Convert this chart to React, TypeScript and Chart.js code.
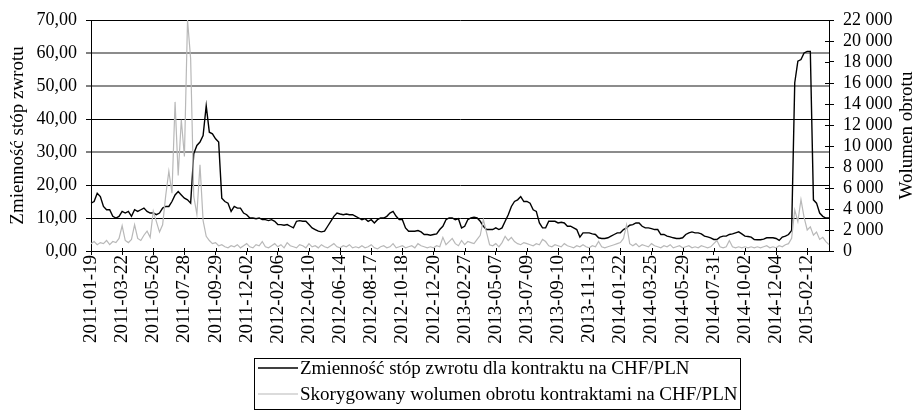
import React, { useEffect, useRef } from 'react';
import { Chart, registerables } from 'chart.js';

Chart.register(...registerables);

// Dates printed under the x axis (one every 10 plotted points)
const DATE_LABELS = [
  '2011-01-19', '2011-03-22', '2011-05-26', '2011-07-28', '2011-09-29', '2011-12-02',
  '2012-02-06', '2012-04-10', '2012-06-14', '2012-08-17', '2012-10-18', '2012-12-20',
  '2013-02-27', '2013-05-07', '2013-07-09', '2013-09-10', '2013-11-13', '2014-01-22',
  '2014-03-25', '2014-05-29', '2014-07-31', '2014-10-02', '2014-12-04', '2015-02-12',
];
const POINTS_PER_LABEL = 10;

// Volatility of returns (left axis)
const VOLATILITY = [
  // 2011
  14.5, 15, 17.5, 16.5, 13.5, 12.5, 12.5, 10.5, 10, 10.5, 12, 11.5, 12, 10.5, 12.5, 12, 12.5, 13, 12, 11.5,
  11.5, 11, 11.5, 13, 13.5, 13.5, 15, 17, 18, 17, 16, 15.5, 14.5, 29.5, 32, 33, 35, 44, 36, 35.5, 34, 33,
  // late 2011 - 2012
  16, 15, 14.5, 12, 13.5, 13, 13, 11.5, 11, 10, 10, 9.8, 10, 9.5, 9.5, 9.2, 9.5, 9, 8, 8,
  7.8, 8, 7.5, 7, 9, 9.2, 9, 9, 8, 7, 6.5, 6, 5.8, 6, 7.5, 9, 10.5, 11.5, 11.2, 11, 11.2, 11, 11,
  // 2012 - 2013
  10.5, 10, 9.5, 9.8, 9, 9.5, 8.5, 9.5, 10, 10, 10.5, 11.5, 12, 10.5, 9.5, 9.5, 7, 6, 6, 6,
  6.2, 5.8, 5, 5, 4.8, 5, 5.2, 6.5, 7.5, 9.5, 10, 10, 9.5, 9.8, 7, 7.5, 9.5, 10, 10.2, 10, 9, 7.5,
  // 2013
  6.5, 6.5, 6.5, 7, 6.5, 7, 9, 11, 13.5, 15, 15.5, 16.5, 15, 15, 14.5, 12.5, 12, 8.5, 7, 7,
  9, 9, 9, 8.5, 8.7, 8.5, 7.5, 7.5, 7, 6.5, 4.2, 5.5, 5.5, 5.5, 5.2, 5, 4, 3.8, 3.8, 4, 4.5, 5,
  // 2014
  5.5, 5.5, 6.5, 7, 7.8, 8, 8.5, 8.5, 7.5, 7, 7, 6.8, 6.5, 6.5, 5, 5, 4.5, 4.3, 4, 3.8,
  3.8, 4, 5, 5.5, 5.8, 5.5, 5.5, 5.2, 4.5, 4.3, 4, 3.5, 3.5, 4.2, 4.5, 4.5,
  // late 2014 - 2015
  5, 5.2, 5.5, 5.8, 5.2, 4.5, 4.4, 4.2, 3.5, 3.4, 3.4, 3.6, 4, 4, 4, 3.8, 3.2, 4.2, 4.5, 5,
  6.2, 51, 57.5, 58, 60, 60.5, 60.5, 15.5, 14.5, 11.5, 10.5, 10, 10,
];

// Adjusted turnover volume (right axis)
const VOLUME = [
  // 2011
  700, 900, 600, 800, 700, 1000, 600, 900, 800, 1200, 2400, 1000, 800, 1100, 2500, 1200, 1000, 1500, 1900, 1300,
  3800, 2800, 1800, 2500, 5300, 7600, 5500, 14200, 7200, 12500, 9000, 22000, 18300, 5200, 3500, 8200, 2900, 1400, 1000, 700,
  800, 500, 600, 400,
  // late 2011 - 2012
  300, 500, 400, 600, 300, 500, 700, 400, 300, 600, 500, 900, 400, 300, 500, 700, 400, 600, 300, 800,
  500, 400, 300, 600, 500, 300, 700, 400, 500, 300, 600, 400, 300, 500, 700, 400, 300, 500, 400, 600, 300,
  // 2012 - 2013
  400, 300, 500, 300, 400, 600, 300, 200, 400, 500, 300, 400, 700, 300, 400, 500, 300, 400, 500, 300,
  700, 500, 400, 300, 400, 300, 500, 400, 1300, 600, 900, 1200, 700, 500, 1000, 600, 900, 800, 700, 1100, 1500,
  // 2013
  3000, 1800, 600, 500, 700, 400, 800, 1400, 1000, 1300, 900, 700, 600, 800, 700, 600, 500, 700, 600, 1100,
  900, 500, 400, 600, 500, 400, 700, 500, 400, 300, 500, 400, 600, 400, 300, 500, 400, 900, 400, 300, 400, 500, 600,
  // 2014
  700, 800, 1200, 2500, 700, 500, 700, 400, 600, 500, 400, 700, 500, 400, 300, 500, 400, 600, 300, 400,
  500, 300, 400, 500, 300, 400, 300, 500, 400, 300, 400, 700, 1000, 400, 300, 400,
  // late 2014 - 2015
  1000, 400, 300, 400, 300, 400, 300, 400, 300, 400, 300, 400, 500, 300, 400, 300, 500, 400, 600, 700,
  1200, 3900, 2800, 4900, 3200, 2000, 2300, 1500, 1800, 1100, 1300, 900, 600,
];

const SERIES_NAMES = [
  'Zmienność stóp zwrotu dla kontraktu na CHF/PLN',
  'Skorygowany wolumen obrotu kontraktami na CHF/PLN',
];
const LEFT_TITLE = 'Zmienność stóp zwrotu';
const RIGHT_TITLE = 'Wolumen obrotu';

const FONT = '"Liberation Serif", "Times New Roman", serif';
const BLACK = '#000000';
const GREY = '#b8b8b8';

const fmtLeft = (v: number) => Number(v).toFixed(2).replace('.', ',');
const fmtRight = (v: number) => String(Math.round(Number(v))).replace(/\B(?=(\d{3})+(?!\d))/g, ' ');

const overlay = {
  id: 'overlay',
  afterDraw(chart: any) {
    const { ctx, chartArea } = chart;
    ctx.save();

    // inward half of the crossing tick marks on the right and bottom axes
    ctx.strokeStyle = BLACK;
    ctx.lineWidth = 1;
    const y1 = chart.scales.y1;
    y1.ticks.forEach((t: any) => {
      const py = Math.round(y1.getPixelForValue(t.value)) + 0.5;
      ctx.beginPath();
      ctx.moveTo(chartArea.right - 4, py);
      ctx.lineTo(chartArea.right, py);
      ctx.stroke();
    });
    const xs = chart.scales.x;
    xs.ticks.forEach((_t: any, i: number) => {
      if (i % POINTS_PER_LABEL !== 0) return;
      const px = Math.round(xs.getPixelForTick(i)) + 0.5;
      ctx.beginPath();
      ctx.moveTo(px, chartArea.bottom - 3);
      ctx.lineTo(px, chartArea.bottom);
      ctx.stroke();
    });

    ctx.fillStyle = BLACK;
    ctx.font = `19px ${FONT}`;
    ctx.textAlign = 'center';
    ctx.textBaseline = 'middle';
    const midY = (chartArea.top + chartArea.bottom) / 2;
    // left axis title
    ctx.save();
    ctx.translate(18, midY);
    ctx.rotate(-Math.PI / 2);
    ctx.fillText(LEFT_TITLE, 0, 0);
    ctx.restore();
    // right axis title (reads bottom to top)
    ctx.save();
    ctx.translate(907, midY);
    ctx.rotate(-Math.PI / 2);
    ctx.fillText(RIGHT_TITLE, 0, 0);
    ctx.restore();

    // legend box
    const bx = 254.5, by = 358.5, bw = 486, bh = 51;
    ctx.strokeStyle = '#000';
    ctx.lineWidth = 1;
    ctx.strokeRect(bx, by, bw, bh);
    const rows = [
      { y: 368, color: BLACK, w: 1.4 },
      { y: 394, color: GREY, w: 1.2 },
    ];
    rows.forEach((r, i) => {
      ctx.beginPath();
      ctx.strokeStyle = r.color;
      ctx.lineWidth = r.w;
      ctx.moveTo(258, r.y);
      ctx.lineTo(298, r.y);
      ctx.stroke();
      ctx.fillStyle = BLACK;
      ctx.textAlign = 'left';
      ctx.fillText(SERIES_NAMES[i], 300, r.y + 1);
    });
    ctx.restore();
  },
};

export default function App() {
  const canvasRef = useRef<HTMLCanvasElement | null>(null);

  useEffect(() => {
    document.body.style.margin = '0';
    const canvas = canvasRef.current;
    if (!canvas) return;
    const labels = VOLATILITY.map((_, i) =>
      i % POINTS_PER_LABEL === 0 ? DATE_LABELS[i / POINTS_PER_LABEL] ?? '' : ''
    );
    const tickFont = { family: FONT, size: 18 };
    const chart = new Chart(canvas, {
      type: 'line',
      data: {
        labels,
        datasets: [
          {
            label: SERIES_NAMES[0],
            data: VOLATILITY,
            yAxisID: 'y',
            borderColor: BLACK,
            borderWidth: 1.4,
            pointRadius: 0,
            tension: 0,
            order: 1,
          },
          {
            label: SERIES_NAMES[1],
            data: VOLUME,
            yAxisID: 'y1',
            borderColor: GREY,
            borderWidth: 1.2,
            pointRadius: 0,
            tension: 0,
            order: 0,
          },
        ],
      },
      options: {
        animation: false,
        responsive: false,
        events: [],
        layout: { padding: { top: 20, left: 0, right: 0, bottom: 0 } },
        plugins: { legend: { display: false }, tooltip: { enabled: false } },
        scales: {
          x: {
            type: 'category',
            offset: false,
            grid: {
              display: true,
              drawOnChartArea: false,
              drawTicks: true,
              tickLength: 4,
              tickColor: (c: any) => (c.index % POINTS_PER_LABEL === 0 ? BLACK : 'rgba(0,0,0,0)'),
            },
            border: { display: true, color: BLACK, width: 1 },
            ticks: {
              autoSkip: false,
              minRotation: 90,
              maxRotation: 90,
              padding: 0,
              color: BLACK,
              font: { family: FONT, size: 19 },
              callback: (_v: any, i: number) => labels[i],
            },
            afterFit: (s: any) => {
              s.height = 159;
            },
          },
          y: {
            position: 'left',
            min: 0,
            max: 70,
            ticks: { stepSize: 10, padding: 9, color: BLACK, font: tickFont, callback: (v: any) => fmtLeft(v) },
            grid: {
              color: (c: any) => ([30, 50, 60].includes(c.tick?.value) ? '#8c8c8c' : BLACK),
              lineWidth: (c: any) => ([30, 50, 60].includes(c.tick?.value) ? 2 : 1),
              tickLength: 5,
              tickColor: BLACK,
              tickWidth: 1,
            },
            border: { display: true, color: BLACK, width: 1 },
            afterFit: (s: any) => {
              s.width = 91;
            },
          },
          y1: {
            position: 'right',
            min: 0,
            max: 22000,
            ticks: {
              stepSize: 2000,
              autoSkip: false,
              padding: 9,
              color: BLACK,
              font: tickFont,
              callback: (v: any) => fmtRight(v),
            },
            grid: { drawOnChartArea: false, tickLength: 5, tickColor: BLACK },
            border: { display: true, color: BLACK, width: 1 },
            afterFit: (s: any) => {
              s.width = 87;
            },
          },
        },
      },
      plugins: [overlay],
    } as any);
    return () => chart.destroy();
  }, []);

  return (
    <div style={{ width: 916, height: 410 }}>
      <canvas ref={canvasRef} width={916} height={410} style={{ display: 'block' }} />
    </div>
  );
}
